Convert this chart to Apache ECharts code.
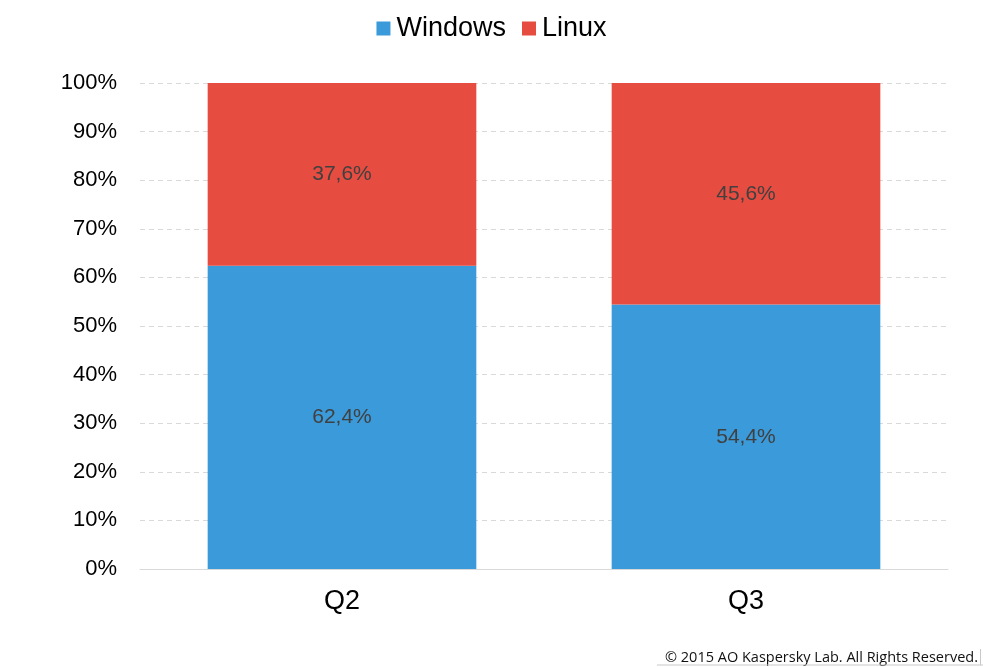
<!DOCTYPE html>
<html>
<head>
<meta charset="utf-8">
<title>Windows / Linux</title>
<script src="https://cdn.jsdelivr.net/npm/echarts@6/dist/echarts.min.js"></script>
<style>
  html, body { margin: 0; padding: 0; background: #fff; }
  #chart { width: 983px; height: 667px; }
</style>
</head>
<body>
<div id="chart"></div>
<script>
// data
var quarters = ['Q2', 'Q3'];
var windowsShare = [62.4, 54.4];
var linuxShare = [37.6, 45.6];

var fmtPct = function (v) {
  return String(v).replace('.', ',') + '%';
};

var myChart = echarts.init(document.getElementById('chart'));

myChart.setOption({
  animation: false,
  legend: {
    top: 10,
    left: 'center',
    itemWidth: 14,
    itemHeight: 14,
    itemGap: 16,
    icon: 'rect',
    textStyle: { fontFamily: 'Liberation Sans', fontSize: 27, color: '#000', padding: [0, 0, 0, 1] },
    data: ['Windows', 'Linux']
  },
  grid: { left: 140, right: 35, top: 83, bottom: 98 },
  xAxis: {
    type: 'category',
    data: quarters,
    axisTick: { show: false },
    axisLine: { lineStyle: { color: '#d9d9d9', width: 1 } },
    axisLabel: { fontFamily: 'Liberation Sans', fontSize: 27, color: '#000', margin: 19 }
  },
  yAxis: {
    type: 'value',
    min: 0,
    max: 100,
    interval: 10,
    axisLine: { show: false },
    axisTick: { show: false },
    axisLabel: {
      fontFamily: 'Liberation Sans', fontSize: 22, color: '#000', margin: 23,
      formatter: '{value}%'
    },
    splitLine: { lineStyle: { color: '#d9d9d9', type: [5, 4], width: 1 } }
  },
  series: [
    {
      name: 'Windows',
      type: 'bar',
      stack: 'os',
      barWidth: '66.5%',
      itemStyle: { color: '#3b9ad9' },
      label: {
        show: true, position: 'inside',
        fontFamily: 'Liberation Sans', fontSize: 21, color: '#404040',
        formatter: function (p) { return fmtPct(p.value); }
      },
      data: windowsShare
    },
    {
      name: 'Linux',
      type: 'bar',
      stack: 'os',
      itemStyle: { color: '#e74c41' },
      label: {
        show: true, position: 'inside',
        fontFamily: 'Liberation Sans', fontSize: 21, color: '#404040',
        formatter: function (p) { return fmtPct(p.value); }
      },
      data: linuxShare
    }
  ],
  graphic: [
    {
      type: 'text',
      right: 5,
      bottom: 2,
      style: {
        text: '\u00a9 2015 AO Kaspersky Lab. All Rights Reserved.',
        font: '14.5px "Open Sans"',
        fill: '#111'
      }
    },
    {
      type: 'line',
      shape: { x1: 657, y1: 665, x2: 983, y2: 665 },
      style: { stroke: '#c8c8c8', lineWidth: 1 }
    },
    {
      type: 'line',
      shape: { x1: 980.5, y1: 649, x2: 980.5, y2: 665 },
      style: { stroke: '#c8c8c8', lineWidth: 1 }
    }
  ]
});
</script>
</body>
</html>
